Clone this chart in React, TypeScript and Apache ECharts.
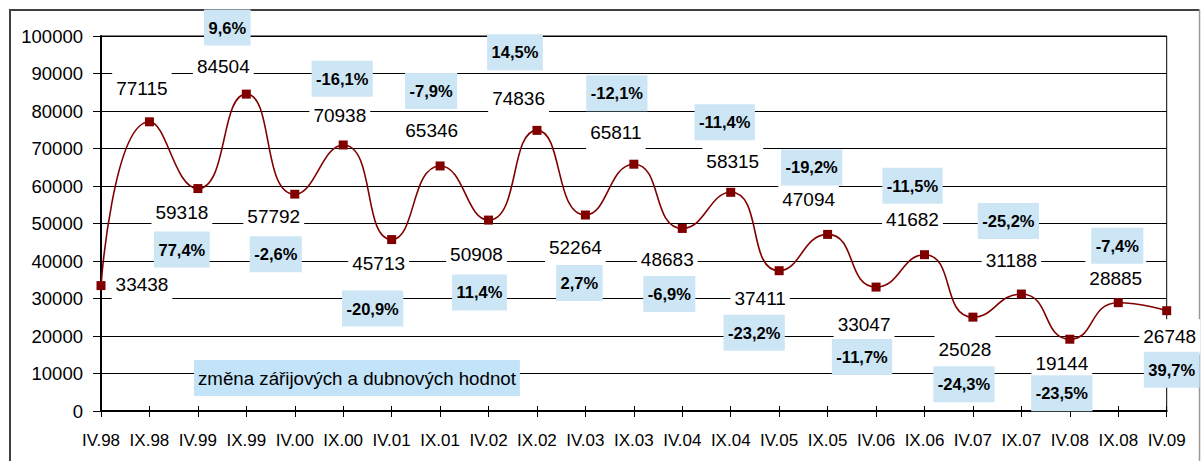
import React, { useEffect, useRef } from "react";
import * as echarts from "echarts";

// ---- data ----
const categories = [
  "IV.98", "IX.98", "IV.99", "IX.99", "IV.00", "IX.00", "IV.01", "IX.01",
  "IV.02", "IX.02", "IV.03", "IX.03", "IV.04", "IX.04", "IV.05", "IX.05",
  "IV.06", "IX.06", "IV.07", "IX.07", "IV.08", "IX.08", "IV.09",
];
const values = [
  33438, 77115, 59318, 84504, 57792, 70938, 45713, 65346, 50908, 74836,
  52264, 65811, 48683, 58315, 37411, 47094, 33047, 41682, 25028, 31188,
  19144, 28885, 26748,
];
const changes: (string | null)[] = [
  null, null, "77,4%", "9,6%", "-2,6%", "-16,1%", "-20,9%", "-7,9%",
  "11,4%", "14,5%", "2,7%", "-12,1%", "-6,9%", "-11,4%", "-23,2%",
  "-19,2%", "-11,7%", "-11,5%", "-24,3%", "-25,2%", "-23,5%", "-7,4%",
  "39,7%",
];
const noteText = "změna zářijových a dubnových hodnot";
const yMin = 0;
const yMax = 100000;
const yStep = 10000;

// ---- layout (label offsets in px, relative to each point) ----
const valueLabelOffsets: [number, number][] = [
  [41, -1], [-7.5, -33.5], [-16, 24], [-23, -28], [-21, 22], [-3.4, -29.5],
  [-13, 24.4], [-8.4, -35.4], [-12, 34], [-18.4, -32], [-10, 32.5],
  [-18, -31.4], [-15, 30.6], [2, -30.6], [-19, 27.6], [-19, -34.4],
  [-12, 37], [-12, -34.7], [-8, 32], [-10, -34], [-8, 24], [-2.5, -24.4],
  [3, 26],
];
const changeLabelOffsets: [number, number][] = [
  [0, 0], [0, 0], [-16, 61], [-19, -66.6], [-19, 60], [-1, -66.3],
  [-19, 69], [-9, -75], [-9, 72.4], [-22, -78], [-6, 68], [-17, -71],
  [-13, 65.6], [-6, -70], [-25, 62], [-16, -67], [-14, 70], [-12, -69],
  [-9, 67], [-13, -73], [-8, 54], [-1, -57], [5, 59],
];

const FONT = '"Liberation Sans", Arial, sans-serif';
const DARK_RED = "#800000";
const BOX_BLUE = "#CCE6F6";

export default function App() {
  const ref = useRef<HTMLDivElement>(null);

  useEffect(() => {
    if (!ref.current) return;
    const chart = echarts.init(ref.current, null, { renderer: "svg" });

    const option: any = {
      animation: false,
      textStyle: { fontFamily: FONT },
      grid: {
        left: 101,
        right: 34.3,
        top: 36,
        bottom: 50,
        show: true,
        borderColor: "#000",
        borderWidth: 1,
        backgroundColor: "transparent",
      },
      xAxis: [
        {
          type: "category",
          data: categories,
          boundaryGap: false,
          axisLine: { show: true, lineStyle: { color: "#000", width: 2 } },
          axisTick: { show: true, length: 6, lineStyle: { color: "#000", width: 1 } },
          axisLabel: {
            color: "#000",
            fontSize: 17,
            fontFamily: FONT,
            margin: 21,
            interval: 0,
          },
          splitLine: { show: false },
        },
        {
          type: "category",
          data: categories,
          boundaryGap: false,
          position: "bottom",
          axisLine: { show: false },
          axisTick: { show: true, inside: true, length: 5, lineStyle: { color: "#000", width: 1 } },
          axisLabel: { show: false },
          splitLine: { show: false },
        },
      ],
      yAxis: {
        type: "value",
        min: yMin,
        max: yMax,
        interval: yStep,
        axisLine: { show: true, lineStyle: { color: "#000", width: 2 } },
        axisTick: { show: true, length: 8, lineStyle: { color: "#000", width: 1 } },
        axisLabel: {
          color: "#000",
          fontSize: 18.5,
          fontFamily: FONT,
          margin: 18,
          formatter: (v: number) => String(v),
        },
        splitLine: { show: true, lineStyle: { color: "#000", width: 1 } },
      },
      series: [
        {
          name: "hodnoty",
          type: "line",
          smooth: 0.55,
          data: values.map((v, i) => ({
            value: v,
            label: { offset: valueLabelOffsets[i] },
          })),
          symbol: "rect",
          symbolSize: 9,
          lineStyle: { color: DARK_RED, width: 1.6 },
          itemStyle: { color: DARK_RED },
          z: 3,
          label: {
            show: true,
            position: "inside",
            align: "center",
            verticalAlign: "middle",
            color: "#000",
            fontSize: 19,
            fontFamily: FONT,
            lineHeight: 19,
            backgroundColor: "#fff",
            padding: [8, 4, 8, 4],
            formatter: (p: any) => String(values[p.dataIndex]),
          },
        },
        {
          name: "změna",
          type: "line",
          data: values.map((v, i) =>
            changes[i]
              ? { value: v, label: { offset: changeLabelOffsets[i] } }
              : "-"
          ),
          symbol: "rect",
          symbolSize: 1,
          lineStyle: { width: 0, color: "transparent" },
          itemStyle: { color: "transparent" },
          z: 4,
          label: {
            show: true,
            position: "inside",
            align: "center",
            verticalAlign: "middle",
            color: "#000",
            fontSize: 16.5,
            fontWeight: "bold",
            fontFamily: FONT,
            lineHeight: 17,
            backgroundColor: BOX_BLUE,
            padding: [10, 4.5, 9, 4.5],
            formatter: (p: any) => changes[p.dataIndex] ?? "",
          },
        },
      ],
      graphic: [
        {
          type: "polyline",
          shape: { points: [[10, 470], [10, 10], [1199.5, 10]] },
          style: { stroke: "#404040", lineWidth: 2, fill: "none" },
          silent: true,
        },
        {
          type: "line",
          shape: { x1: 1199.5, y1: 10, x2: 1199.5, y2: 470 },
          style: { stroke: "#9a9a9a", lineWidth: 1.5 },
          silent: true,
        },
        {
          type: "text",
          x: 194,
          y: 360,
          z: 10,
          style: {
            text: noteText,
            font: `18.7px ${FONT}`,
            fill: "#000",
            lineHeight: 18,
            backgroundColor: "#C2E3F8",
            padding: [9, 4, 9, 4],
          },
          silent: true,
        },
      ],
    };

    chart.setOption(option);
    return () => chart.dispose();
  }, []);

  return (
    <div
      ref={ref}
      style={{ position: "absolute", left: 0, top: 0, width: 1201, height: 461, background: "#fff" }}
    />
  );
}
